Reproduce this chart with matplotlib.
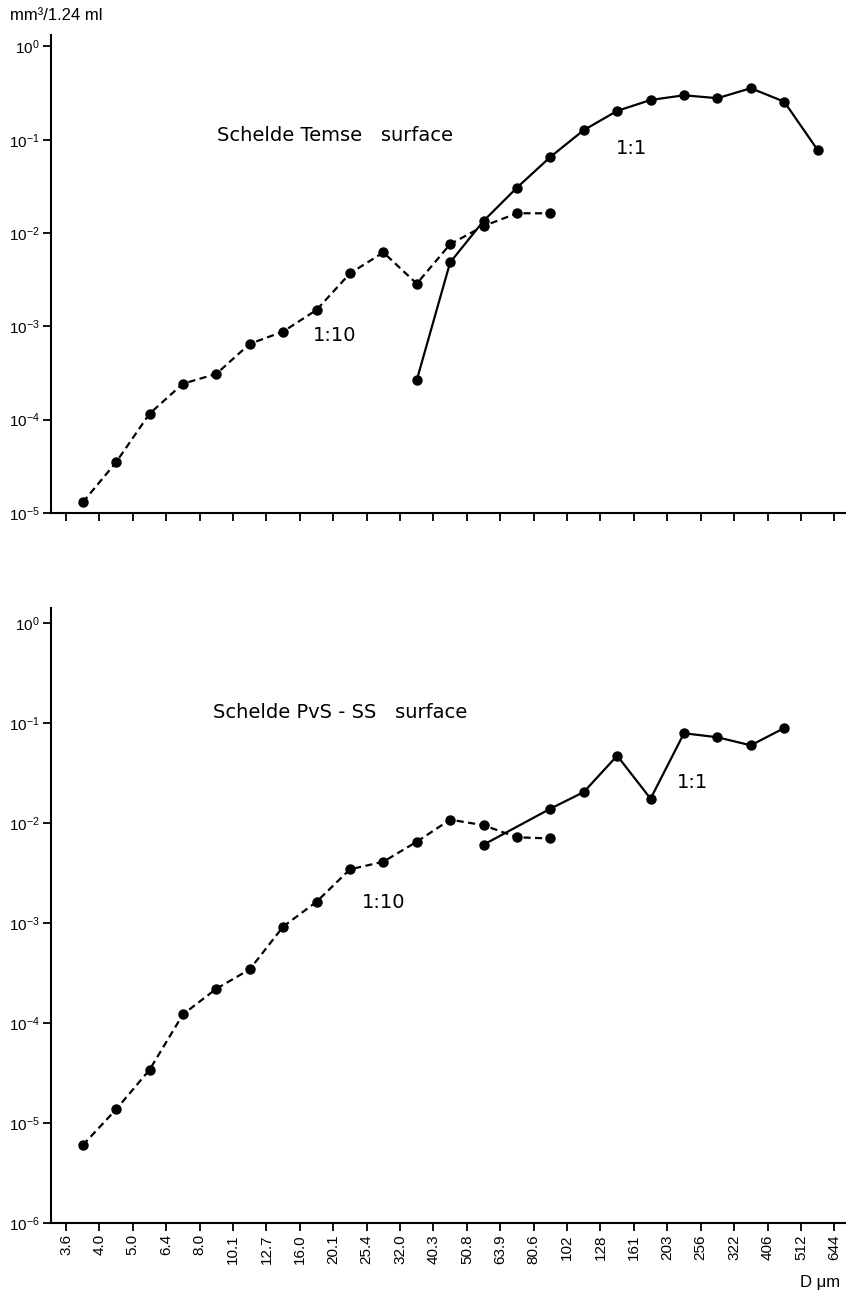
import numpy as np
import matplotlib
matplotlib.use('Agg')
import matplotlib.pyplot as plt

plt.rcParams['font.family'] = ['Liberation Sans', 'DejaVu Sans']
plt.rcParams['mathtext.fontset'] = 'custom'
plt.rcParams['mathtext.rm'] = 'Liberation Sans'
plt.rcParams['mathtext.it'] = 'Liberation Sans:italic'

# size class boundaries (um), tick labels
size_labels = ['3.6', '4.0', '5.0', '6.4', '8.0', '10.1', '12.7', '16.0', '20.1', '25.4',
               '32.0', '40.3', '50.8', '63.9', '80.6', '102', '128', '161', '203', '256',
               '322', '406', '512', '644']

# Schelde Temse surface: bin index (between boundaries) and volume
temse_dil_bins = [0, 1, 2, 3, 4, 5, 6, 7, 8, 9, 10, 11, 12, 13, 14]
temse_dil_vals = [1.3e-5, 3.5e-5, 1.16e-4, 2.43e-4, 3.1e-4, 6.5e-4, 8.8e-4, 1.5e-3,
                  3.7e-3, 6.2e-3, 2.87e-3, 7.6e-3, 1.19e-2, 1.63e-2, 1.63e-2]
temse_raw_bins = [10, 11, 12, 13, 14, 15, 16, 17, 18, 19, 20, 21, 22]
temse_raw_vals = [2.66e-4, 4.86e-3, 1.35e-2, 3.07e-2, 6.55e-2, 0.127, 0.204, 0.267,
                  0.30, 0.279, 0.357, 0.256, 0.0778]

# Schelde PvS - SS surface
pvs_dil_bins = [0, 1, 2, 3, 4, 5, 6, 7, 8, 9, 10, 11, 12, 13, 14]
pvs_dil_vals = [6.0e-6, 1.37e-5, 3.4e-5, 1.22e-4, 2.2e-4, 3.44e-4, 9.2e-4, 1.63e-3,
                3.44e-3, 4.1e-3, 6.5e-3, 1.08e-2, 9.5e-3, 7.2e-3, 7.0e-3]
pvs_raw_bins = [12, 14, 15, 16, 17, 18, 19, 20, 21]
pvs_raw_vals = [6.07e-3, 1.39e-2, 2.04e-2, 4.71e-2, 1.75e-2, 7.9e-2, 7.2e-2, 5.98e-2, 8.9e-2]

W, H = 847, 1294
fig = plt.figure(figsize=(W / 100, H / 100), dpi=100)

def px_axes(left, top, right, bottom):
    return fig.add_axes([left / W, 1 - bottom / H, (right - left) / W, (bottom - top) / H])

ax1 = px_axes(51, 35, 845, 513)
ax2 = px_axes(51, 608, 845, 1223)

def style(ax, ymin_exp, ymax):
    ax.set_yscale('log')
    ax.set_ylim(10.0 ** ymin_exp, ymax)
    ax.set_xlim(-0.45, 23.32)
    for s in ['top', 'right']:
        ax.spines[s].set_visible(False)
    for s in ['left', 'bottom']:
        ax.spines[s].set_linewidth(1.5)
    decades = [10.0 ** e for e in range(ymin_exp, 1)]
    ax.set_yticks(decades)
    ax.set_yticklabels(['$10^{%d}$' % e for e in range(ymin_exp, 1)], fontsize=11)
    ax.yaxis.set_minor_locator(matplotlib.ticker.NullLocator())
    ax.set_xticks(np.arange(len(size_labels)))
    ax.tick_params(axis='both', direction='out', length=6, width=1.3, pad=2)

def draw(ax, bins, vals, ls):
    x = np.array(bins) + 0.5
    ax.plot(x, vals, color='black', linestyle=ls, linewidth=1.6, marker='o',
            markersize=6.5, dashes=(3.2, 2) if ls == '--' else (None, None), clip_on=False)

txt = dict(fontsize=14, family='DejaVu Sans', ha='left', va='center')

style(ax1, -5, 10 ** 0.123)
ax1.set_xticklabels([])
draw(ax1, temse_dil_bins, temse_dil_vals, '--')
draw(ax1, temse_raw_bins, temse_raw_vals, '-')
ax1.text(4.52, 10 ** -0.955, 'Schelde Temse   surface', **txt)
ax1.text(7.4, 10 ** -3.1, '1:10', **txt)
ax1.text(16.45, 10 ** -1.09, '1:1', **txt)

style(ax2, -6, 10 ** 0.15)
ax2.set_xticklabels(size_labels, rotation=90, fontsize=11)
draw(ax2, pvs_dil_bins, pvs_dil_vals, '--')
draw(ax2, pvs_raw_bins, pvs_raw_vals, '-')
ax2.text(4.4, 10 ** -0.9, 'Schelde PvS - SS   surface', **txt)
ax2.text(8.85, 10 ** -2.8, '1:10', **txt)
ax2.text(18.3, 10 ** -1.59, '1:1', **txt)

fig.text(10 / W, 1 - 16 / H, 'mm³/1.24 ml', fontsize=12, ha='left', va='center')
fig.text(840 / W, 1 - 1282 / H, 'D μm', fontsize=12, ha='right', va='center')

fig.savefig('out.png', dpi=100)
